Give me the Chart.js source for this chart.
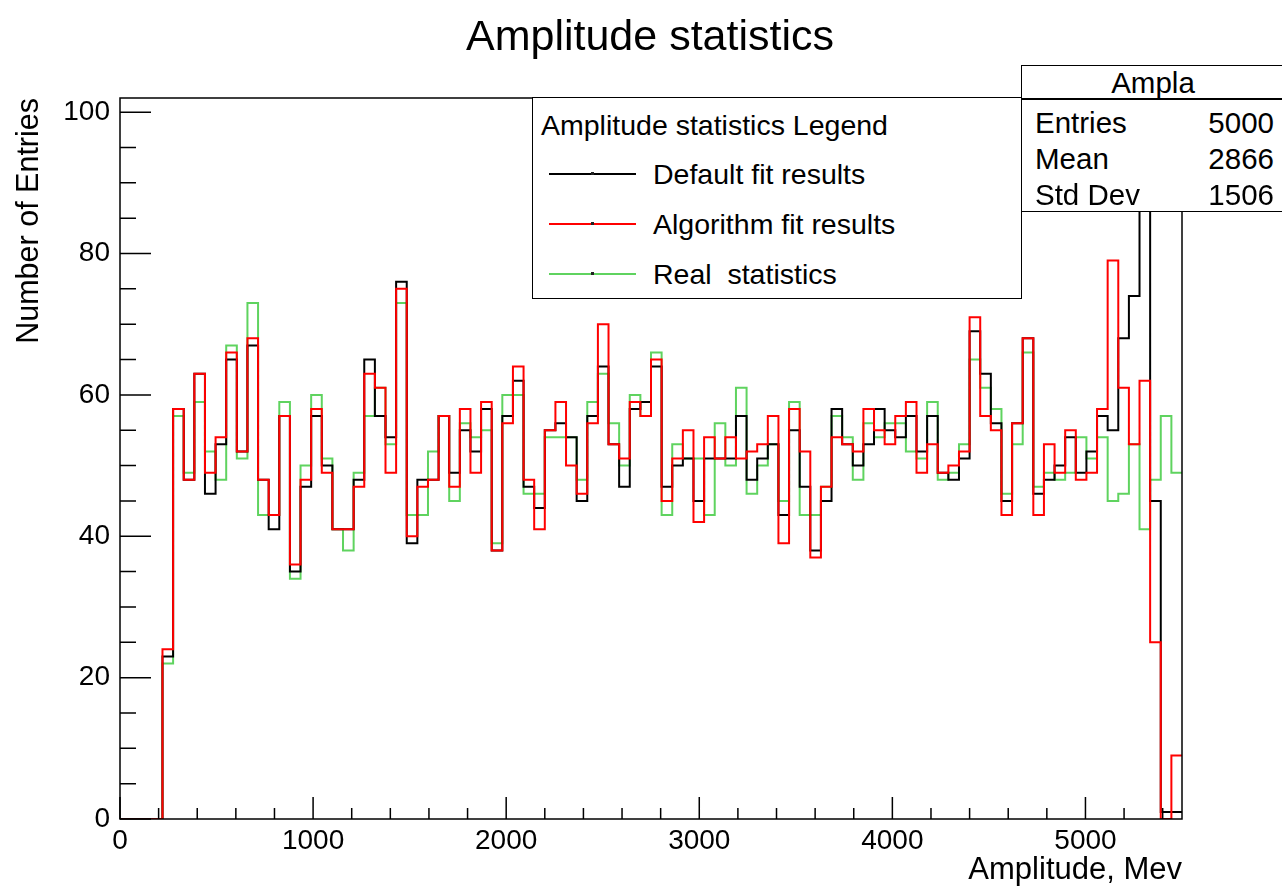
<!DOCTYPE html>
<html><head><meta charset="utf-8">
<script src="https://cdn.jsdelivr.net/npm/chart.js@4.4.1/dist/chart.umd.min.js"></script>
<style>
html,body{margin:0;padding:0;background:#fff;}
#wrap{position:relative;width:1282px;height:886px;overflow:hidden;font-family:"Liberation Sans",Arial,Helvetica,sans-serif;color:#000;}
canvas{position:absolute;left:0;top:0;}
.t{position:absolute;white-space:nowrap;line-height:1.2;transform:translateY(-50%);}
.c{transform:translate(-50%,-50%);}
.r{transform:translate(-100%,-50%);}
.box{position:absolute;background:#fff;border:1.5px solid #000;box-sizing:border-box;}
.ln{position:absolute;height:2px;}
.dot{position:absolute;width:3px;height:3px;background:#222;}
.lg{font-size:28.5px;}
.st{font-size:29.5px;}
</style></head><body>
<div id="wrap">
<canvas id="c" width="1282" height="886"></canvas>
<div class="t c" style="left:650px;top:36px;font-size:43px;">Amplitude statistics</div>

<div class="box" style="left:532px;top:97px;width:490px;height:202px;">
  <div class="t lg" style="left:8px;top:27px;">Amplitude statistics Legend</div>
  <div class="ln" style="left:16px;top:75px;width:87px;background:#000;"></div>
  <div class="dot" style="left:58px;top:74px;"></div>
  <div class="t lg" style="left:120px;top:76px;">Default fit results</div>
  <div class="ln" style="left:16px;top:125px;width:87px;background:#ff0000;"></div>
  <div class="dot" style="left:58px;top:124px;"></div>
  <div class="t lg" style="left:120px;top:126px;">Algorithm fit results</div>
  <div class="ln" style="left:16px;top:175px;width:87px;background:#5fd35f;"></div>
  <div class="dot" style="left:58px;top:174px;"></div>
  <div class="t lg" style="left:120px;top:176px;">Real&nbsp; statistics</div>
</div>

<div class="box" style="left:1021px;top:65px;width:264px;height:147px;">
  <div class="t c st" style="left:131px;top:17px;">Ampla</div>
  <div style="position:absolute;left:0;top:32px;width:100%;height:1.5px;background:#000;"></div>
  <div class="t st" style="left:13px;top:57px;">Entries</div>
  <div class="t r st" style="left:252px;top:57px;">5000</div>
  <div class="t st" style="left:13px;top:93px;">Mean</div>
  <div class="t r st" style="left:252px;top:93px;">2866</div>
  <div class="t st" style="left:13px;top:129px;">Std Dev</div>
  <div class="t r st" style="left:252px;top:129px;">1506</div>
</div>
</div>
<script>
// Histogram: 100 bins from 0 to 5500 (bin width 55)
const xMin = 0, xMax = 5500, nBins = 100;
const binWidth = (xMax - xMin) / nBins;

const defaultFit = [0,0,0,0,23,58,48,63,46,53, 65,52,67,48,41,57,35,47,57,50,
  41,41,48,65,57,54,76,39,48,48, 57,49,55,52,58,38,57,62,47,44,
  55,56,54,45,57,64,53,47,58,59, 64,47,50,51,45,51,51,51,57,48,
  51,53,43,55,47,38,45,58,53,50, 53,58,55,54,57,52,57,49,48,51,
  69,63,56,45,56,68,46,48,50,54, 49,52,57,55,68,74,130,45,1,1];

const algorithmFit = [0,0,0,0,24,58,48,63,49,54, 66,52,68,48,43,57,36,48,58,49,
  41,41,47,63,61,49,75,40,47,48, 57,47,58,49,59,38,56,64,48,41,
  55,59,50,46,56,70,53,51,59,57, 65,45,51,55,42,54,51,54,51,52,
  53,57,39,58,52,37,47,54,53,52, 58,55,53,57,59,49,53,49,50,52,
  71,57,55,43,56,68,43,53,49,55, 48,49,58,79,61,53,62,25,0,9];

const realStats = [0,0,0,0,22,57,49,59,52,48, 67,51,73,43,43,59,34,50,60,51,
  41,38,49,57,61,53,73,43,43,52, 57,45,56,54,55,39,60,60,46,46,
  54,54,54,48,59,63,56,50,60,57, 66,43,53,51,51,43,56,50,61,46,
  50,53,45,59,43,43,47,57,54,48, 56,54,56,56,52,51,59,48,49,53,
  65,61,58,46,53,66,47,49,48,49, 54,51,54,45,46,53,41,48,57,49];

const xTickLabels = [0, 1000, 2000, 3000, 4000, 5000];
const yTickLabels = [0, 20, 40, 60, 80, 100];
const yMax = 102;
const xMinorStep = 200, yMinorStep = 5;

function toSteps(vals) {
  const pts = vals.map((v, i) => ({x: xMin + i * binWidth, y: v}));
  pts.push({x: xMax, y: vals[vals.length - 1]});
  return pts;
}

const FONT = '"Liberation Sans", Arial, Helvetica, sans-serif';

const frameTicks = {
  id: 'frameTicks',
  afterDatasetsDraw(chart) {
    const {ctx, chartArea: a, scales: {x, y}} = chart;
    ctx.save();
    ctx.strokeStyle = '#000';
    ctx.lineWidth = 1.5;
    ctx.strokeRect(a.left, a.top, a.right - a.left, a.bottom - a.top);
    ctx.beginPath();
    for (let v = 0; v <= 100; v += yMinorStep) {
      const py = y.getPixelForValue(v);
      const len = (v % 20 === 0) ? 31 : 16;
      ctx.moveTo(a.left, py); ctx.lineTo(a.left + len, py);
    }
    for (let v = xMin; v <= xMax; v += xMinorStep) {
      const px = x.getPixelForValue(v);
      const len = (v % 1000 === 0) ? 22 : 11;
      ctx.moveTo(px, a.bottom); ctx.lineTo(px, a.bottom - len);
    }
    ctx.stroke();
    ctx.restore();
  }
};

const ds = (label, vals, color, order) => ({
  label, data: toSteps(vals), borderColor: color, backgroundColor: color,
  borderWidth: 2, stepped: 'before', fill: false, pointRadius: 0, tension: 0, order
});

new Chart(document.getElementById('c').getContext('2d'), {
  type: 'line',
  data: {
    datasets: [
      ds('Algorithm fit results', algorithmFit, '#ff0000', 0),
      ds('Default fit results', defaultFit, '#000000', 1),
      ds('Real  statistics', realStats, '#5fd35f', 2)
    ]
  },
  options: {
    responsive: false, animation: false, devicePixelRatio: 1,
    layout: {padding: {left: 0, top: 98, right: 100, bottom: 0}},
    plugins: {legend: {display: false}, tooltip: {enabled: false}, title: {display: false}},
    scales: {
      x: {
        type: 'linear', min: xMin, max: xMax,
        grid: {display: false}, border: {display: false},
        afterBuildTicks: s => { s.ticks = xTickLabels.map(v => ({value: v})); },
        afterFit: s => { s.height = 67; },
        ticks: {padding: -3, color: '#000', font: {family: FONT, size: 28}, maxRotation: 0, autoSkip: false, callback: v => String(v)},
        title: {display: true, text: 'Amplitude, Mev', align: 'end', color: '#000', font: {family: FONT, size: 31}, padding: {top: 0, bottom: -3}}
      },
      y: {
        type: 'linear', min: 0, max: yMax,
        grid: {display: false}, border: {display: false},
        afterBuildTicks: s => { s.ticks = yTickLabels.map(v => ({value: v})); },
        afterFit: s => { s.width = 120; },
        ticks: {padding: 2, color: '#000', font: {family: FONT, size: 28}, autoSkip: false, callback: v => String(v)},
        title: {display: true, text: 'Number of Entries', align: 'end', color: '#000', font: {family: FONT, size: 30.5}, padding: {top: 11, bottom: 0}}
      }
    }
  },
  plugins: [frameTicks]
});
</script>
</body></html>
